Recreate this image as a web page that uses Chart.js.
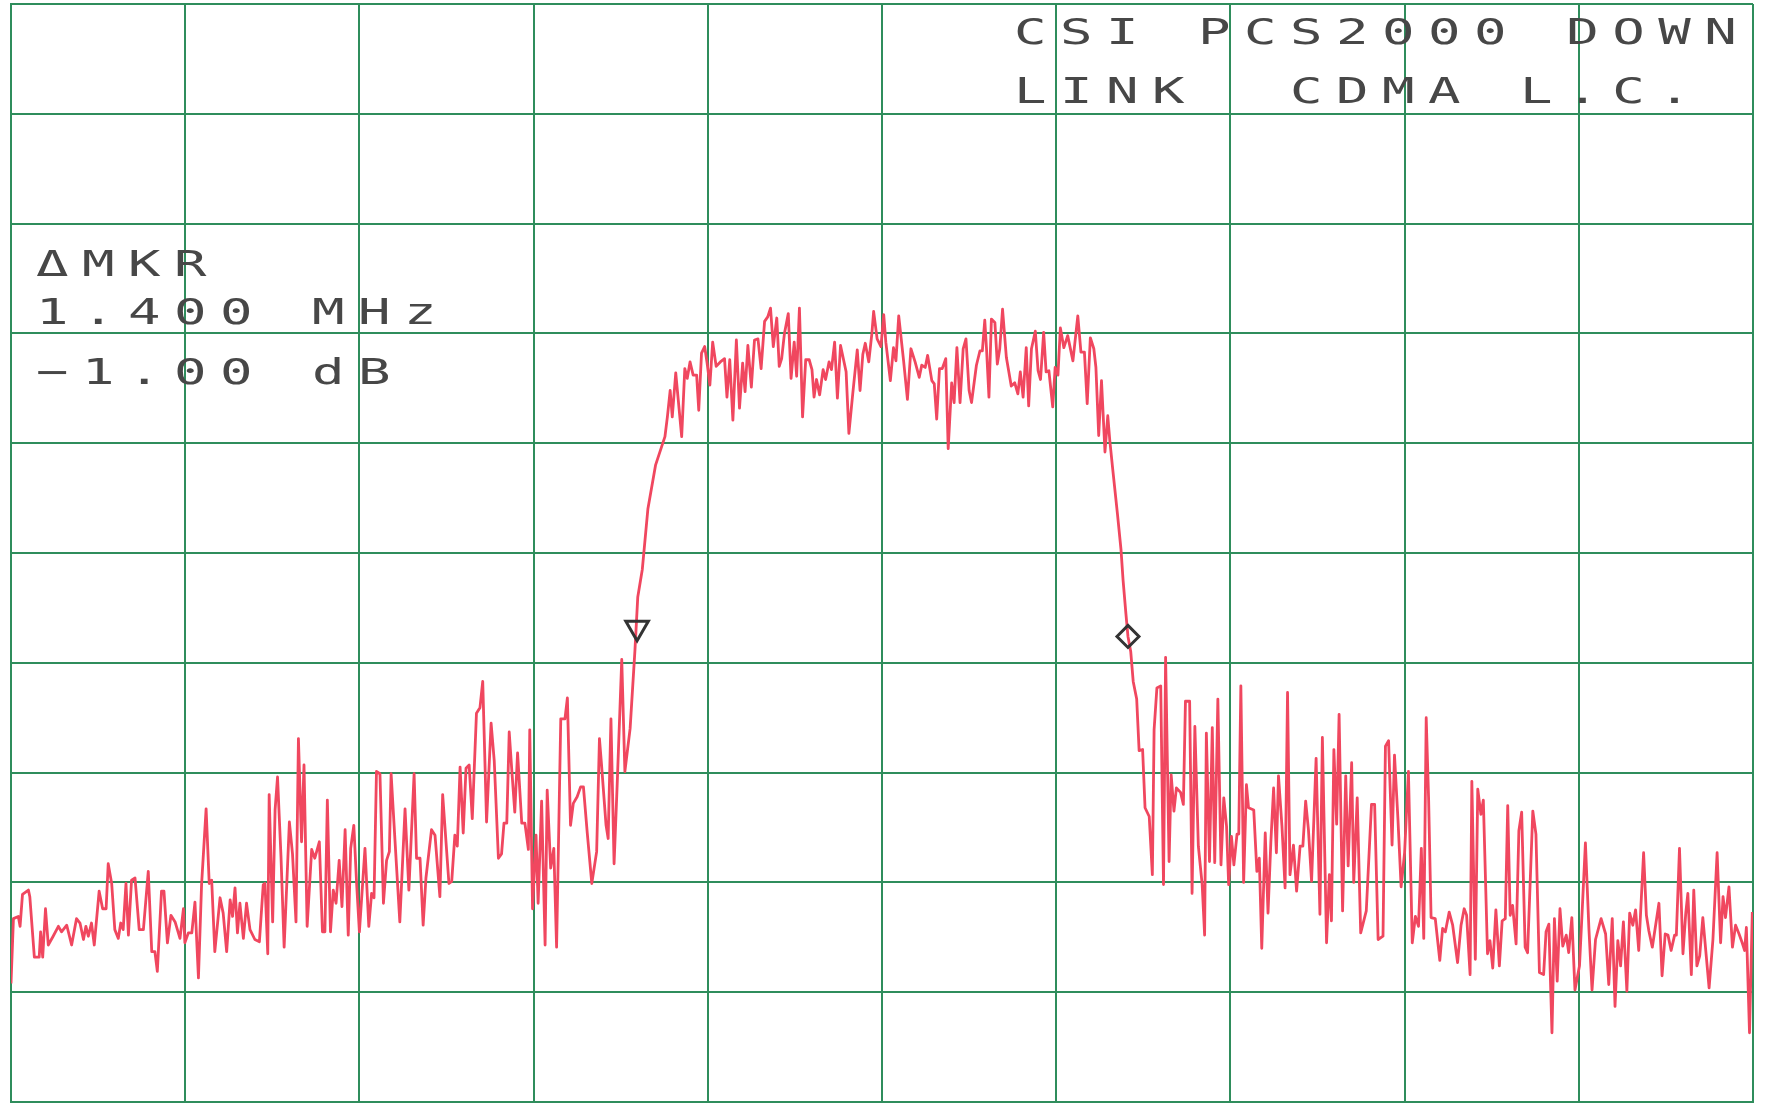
<!DOCTYPE html>
<html>
<head>
<meta charset="utf-8">
<title>CSI PCS2000 DOWN LINK CDMA L.C.</title>
<script src="https://cdn.jsdelivr.net/npm/chart.js@4/dist/chart.umd.min.js"></script>
<style>
  html, body { margin: 0; padding: 0; background: #ffffff; }
  #wrap { position: relative; width: 1765px; height: 1103px; overflow: hidden; }
  canvas { position: absolute; left: 0; top: 0; }
  .lbl {
    position: absolute;
    font-family: "DejaVu Sans Mono", monospace;
    font-size: 36px;
    line-height: 36px;
    letter-spacing: 9px;
    color: #474747;
    white-space: pre;
    transform: scaleX(1.5);
    transform-origin: 0 0;
  }
</style>
</head>
<body>
<div id="wrap">
  <canvas id="spectrum" width="1765" height="1103"></canvas>
  <div class="lbl" style="left:1014px; top:14px;">CSI PCS2000 DOWN</div>
  <div class="lbl" style="left:1014px; top:73px;">LINK  CDMA L.C.</div>
  <div class="lbl" style="left:36px; top:246px;">ΔMKR</div>
  <div class="lbl" style="left:36px; top:294px;">1.400 MHz</div>
  <div class="lbl" style="left:36px; top:354px;">−1.00 dB</div>
</div>
<script>
// span 5 MHz (0.5 MHz/div), 10 dB/div, frequency as offset from centre in kHz
const freqTicks = [-2500, -2000, -1500, -1000, -500, 0, 500, 1000, 1500, 2000, 2500];
const levelTicks = [-100, -90, -80, -70, -60, -50, -40, -30, -20, -10, 0];

// trace (kHz offset / dB)
const traceKHz = [
  // lower noise floor
  -2500,-2493,-2479,-2474,-2467,-2450,-2446,-2433,-2419,-2415,
  -2409,-2401,-2393,-2379,-2364,-2355,-2340,-2326,-2312,-2302,
  -2292,-2285,-2278,-2269,-2261,-2247,-2237,-2227,-2221,-2211,
  -2202,-2192,-2185,-2178,-2170,-2163,-2154,-2144,-2132,-2120,
  -2106,-2096,-2087,-2080,-2068,-2061,-2051,-2041,-2029,-2015,
  -2005,-2001,-1991,-1981,-1972,-1962,-1953,-1940,-1931,-1924,
  -1915,-1900,-1891,-1881,-1871,-1864,-1857,-1850,-1843,-1833,
  -1824,-1814,-1800,-1787,-1776,-1771,-1763,-1759,-1749,-1742,
  -1735,-1725,-1716,-1701,-1692,-1682,-1675,-1666,-1659,-1650,
  -1637,-1628,-1615,
  -1606,-1599,-1592,-1583,-1575,-1567,-1558,-1550,-1541,-1532,
  -1525,-1516,-1508,-1500,-1484,-1473,-1465,-1458,-1451,-1441,
  -1431,-1422,-1414,-1409,-1398,-1384,-1369,-1358,-1343,-1336,
  -1326,-1317,-1309,-1293,-1283,-1269,-1261,-1243,-1235,-1226,
  -1219,-1211,-1202,-1194,-1185,-1176,-1164,-1154,-1146,-1135,
  -1122,-1113,-1101,-1092,-1085,-1077,-1070,-1063,-1054,-1046,
  -1034,-1025,-1015,-1011,-1003,-993,-987,-977,-967,-961,
  -951,-942,-934,-922,-910,-903,-894,-886,-875,-865,
  -857,-846,-833,-819,-811,-805,-792,-786,-778,-769,
  -760,-747,-738,-723,-709,
  // rising edge
  -701,-688,-672,-650,
  // channel
  -623,-616,-608,-602,-592,-575,-566,-559,-551,-542,
  -532,-526,-518,-509,-502,-494,-486,-476,-464,-452,
  -445,-437,-428,-418,-409,-400,-393,-385,-375,-366,
  -356,-347,-337,-328,-320,-312,-302,-295,-288,-280,
  -269,-261,-252,-245,-237,-228,-219,-209,-201,-195,
  -188,-179,-169,-162,-152,-145,-136,-128,-119,-103,
  -95,-84,-71,-63,-55,-48,-38,-29,-24,-14,
  -3,5,
  11,24,33,40,48,62,73,83,95,107,
  114,124,131,143,150,157,165,173,183,190,
  200,207,215,224,233,241,250,257,271,281,
  288,295,300,307,314,324,331,338,346,357,
  371,381,390,397,405,414,421,429,440,448,
  455,464,471,479,490,497,505,512,522,533,
  548,562,571,581,589,598,608,614,622,630,
  640,648,654,662,
  // falling edge
  676,686,692,700,706,714,
  // upper noise floor
  721,731,738,748,755,767,776,781,789,800,
  808,814,824,830,838,845,857,865,871,883,
  890,898,908,919,926,931,940,948,955,964,
  973,981,989,995,1003,1010,1019,1024,1030,1038,
  1046,1052,1067,1076,1083,1090,1100,1108,1116,1124,
  1132,1138,1148,1157,1164,1171,1181,1190,1200,1208,
  1216,1224,1233,1246,1257,1264,1276,1284,1290,1297,
  1305,1312,1322,1331,1338,1348,1354,1364,1374,1390,
  1405,1414,1424,1438,1445,1454,1464,1471,1481,1490,
  1500,1511,1522,1531,1540,1548,1555,1562,1569,
  1576,1588,1601,1609,1617,1628,1638,1652,1662,1671,
  1678,1688,1693,1703,1710,1719,1726,1738,1745,1753,
  1762,1772,1780,1789,1796,1803,1810,1820,1828,1836,
  1846,1853,1868,1877,1887,1899,1906,1914,1923,1930,
  1938,1946,1954,1964,1971,1980,1989,2002,2010,2019,
  2029,2038,2048,2064,2077,2086,2096,2104,2112,2120,
  2128,2138,2146,2155,2163,2172,2186,2194,2201,2211,
  2230,2239,2248,2256,2265,2275,2280,2289,2299,2307,
  2313,2323,2330,2339,2347,2356,2374,2385,2397,2407,
  2414,2421,2431,2441,2450,2460,2469,2476,2481,2490,
  2498
];

const traceDb = [
  -89.2,-83.3,-83.1,-84.0,-81.1,-80.7,-81.3,-86.8,-86.8,-84.5,
  -86.8,-82.4,-85.7,-84.9,-84.0,-84.5,-83.9,-85.7,-83.3,-83.7,
  -85.2,-84.0,-84.9,-83.7,-85.7,-80.8,-82.4,-82.4,-78.3,-80.1,
  -84.3,-85.1,-83.7,-84.3,-80.1,-84.8,-79.8,-79.6,-84.3,-84.3,
  -79.0,-86.3,-86.3,-88.1,-80.8,-80.8,-85.5,-83.0,-83.6,-85.1,
  -82.4,-85.5,-84.6,-84.6,-81.8,-88.7,-80.2,-73.3,-80.1,-79.8,
  -86.3,-81.4,-82.8,-86.3,-81.6,-83.1,-80.5,-84.6,-81.9,-85.1,
  -81.9,-84.3,-85.2,-85.4,-80.2,-80.1,-86.5,-72.0,-83.6,-73.4,
  -70.4,-77.7,-85.9,-74.5,-77.4,-83.6,-66.9,-76.3,-69.3,-84.0,
  -77.0,-77.8,-76.3,
  -84.5,-84.5,-72.5,-84.5,-80.7,-81.9,-78.0,-82.2,-75.2,-84.8,
  -76.9,-74.8,-80.1,-84.5,-76.9,-84.0,-81.0,-81.4,-69.9,-70.1,
  -81.9,-78.0,-77.2,-70.1,-76.1,-83.6,-73.3,-80.7,-70.1,-77.8,
  -77.8,-83.9,-79.6,-75.2,-75.7,-81.3,-72.0,-80.1,-79.9,-75.7,
  -76.7,-69.5,-75.5,-69.6,-69.3,-74.2,-64.6,-64.1,-61.7,-74.5,
  -65.5,-68.9,-77.8,-77.4,-74.6,-74.6,-66.3,-69.6,-73.6,-68.2,
  -74.6,-74.6,-77.0,-66.1,-82.4,-75.7,-81.9,-72.6,-85.7,-71.6,
  -78.7,-76.9,-85.9,-65.1,-65.1,-63.2,-74.8,-72.8,-72.2,-71.3,
  -71.3,-75.5,-80.1,-77.2,-66.9,-69.3,-74.8,-76.0,-65.1,-78.3,
  -71.0,-59.7,-69.9,-66.0,-58.8,
  -54.0,-51.5,-46.0,-42.0,
  -39.4,-37.6,-35.2,-37.6,-33.6,-39.4,-33.2,-34.1,-32.6,-33.8,
  -33.8,-37.0,-31.8,-31.2,-32.7,-34.7,-30.8,-33.0,-32.6,-32.3,
  -35.8,-32.4,-37.9,-30.6,-36.8,-32.7,-35.3,-31.1,-34.9,-30.6,
  -30.5,-33.2,-28.9,-28.5,-27.7,-31.2,-28.6,-33.0,-32.3,-30.0,
  -28.2,-34.1,-30.8,-33.9,-27.7,-37.6,-32.4,-32.4,-33.3,-35.8,
  -34.2,-35.6,-33.3,-34.2,-32.6,-33.3,-30.8,-35.9,-31.1,-33.5,
  -39.1,-35.5,-31.5,-35.2,-31.9,-30.9,-32.6,-30.0,-28.0,-30.5,
  -31.2,-28.3,
  -30.8,-34.3,-31.3,-32.5,-28.4,-32.5,-36.0,-31.4,-32.6,-34.0,
  -32.9,-33.1,-32.0,-34.3,-34.6,-37.8,-33.2,-33.2,-32.3,-40.5,
  -34.5,-36.3,-31.3,-36.3,-31.4,-30.5,-35.2,-36.3,-32.9,-31.6,
  -31.6,-28.8,-31.4,-35.8,-28.7,-29.0,-32.8,-31.4,-27.8,-32.2,
  -34.8,-34.5,-35.5,-33.5,-35.8,-31.3,-36.6,-31.4,-29.8,-33.4,
  -34.2,-29.9,-33.5,-33.4,-36.7,-33.1,-33.8,-29.5,-31.3,-30.2,
  -32.5,-28.4,-31.7,-31.7,-36.4,-30.4,-31.4,-33.1,-39.3,-34.3,
  -40.8,-37.5,-39.8,-42.3,
  -46.5,-49.7,-52.5,-55.5,-57.6,-59.0,
  -61.7,-63.3,-68.0,-67.9,-73.2,-74.0,-79.3,-66.1,-62.3,-62.1,
  -80.2,-59.5,-78.1,-70.2,-73.5,-71.4,-71.8,-72.9,-63.5,-63.5,
  -81.0,-65.8,-76.7,-80.2,-84.8,-66.4,-78.1,-65.9,-78.2,-63.3,
  -78.4,-72.3,-74.9,-80.2,-75.8,-78.4,-75.6,-75.6,-62.1,-80.0,
  -71.1,-73.2,-73.4,-79.0,-77.8,-86.0,-75.5,-82.8,-76.4,-71.4,
  -77.3,-70.3,-74.9,-80.5,-62.7,-79.3,-76.6,-80.8,-76.7,-76.7,
  -72.6,-75.2,-79.9,-68.7,-82.9,-66.8,-85.5,-79.3,-83.5,-67.9,
  -74.7,-64.7,-82.6,-70.3,-78.5,-69.1,-80.0,-72.3,-84.6,-82.6,
  -72.9,-72.9,-85.2,-84.9,-67.6,-67.1,-76.6,-68.4,-74.3,-80.4,
  -77.3,-69.9,-85.5,-83.1,-84.0,-76.9,-85.1,-65.0,-72.5,
  -83.2,-83.3,-87.1,-84.2,-84.5,-82.7,-83.9,-87.3,-83.9,-82.4,
  -83.0,-88.4,-70.8,-87.0,-71.5,-73.8,-72.5,-86.5,-85.3,-87.8,
  -82.5,-87.6,-83.5,-83.3,-73.0,-83.0,-82.1,-85.6,-75.3,-73.6,
  -85.9,-86.4,-73.5,-75.6,-88.2,-88.4,-84.5,-83.8,-93.7,-83.3,
  -89.0,-82.4,-85.8,-84.8,-86.4,-83.2,-89.8,-87.6,-82.4,-76.4,
  -84.2,-89.8,-85.2,-83.3,-84.7,-89.3,-83.3,-91.3,-85.3,-87.6,
  -83.6,-89.9,-82.8,-83.9,-82.5,-86.2,-77.3,-83.0,-84.4,-85.9,
  -81.9,-88.5,-84.7,-84.8,-86.2,-84.8,-84.8,-76.9,-86.5,-82.8,
  -81.0,-88.4,-80.7,-87.6,-86.7,-83.2,-89.6,-85.2,-77.3,-85.5,
  -81.3,-83.2,-80.4,-85.9,-83.9,-84.7,-85.5,-86.2,-84.1,-93.7,
  -82.7
];

// delta marker pair: reference (triangle) and active (diamond)
const markerKHz = [-703, 706];
const markerDb = [-56.8, -57.6];
const markerStyle = ['triangle', 'rectRot'];

const gridGreen = '#2f8d5c';
const traceRed = '#f0475f';

const tracePoints = traceKHz.map((f, i) => ({ x: f, y: traceDb[i] }));
const markerPoints = markerKHz.map((f, i) => ({ x: f, y: markerDb[i] }));

const ctx = document.getElementById('spectrum');

new Chart(ctx, {
  type: 'line',
  data: {
    datasets: [
      {
        // markers first so they sit on top of the trace
        label: 'markers',
        data: markerPoints,
        showLine: false,
        pointStyle: markerStyle,
        pointRotation: [180, 0],
        pointRadius: [13, 11],
        pointBorderColor: '#333333',
        pointBackgroundColor: 'rgba(0,0,0,0)',
        pointBorderWidth: 3
      },
      {
        label: 'trace',
        data: tracePoints,
        borderColor: traceRed,
        borderWidth: 2.8,
        borderJoinStyle: 'round',
        pointRadius: 0,
        tension: 0,
        fill: false
      }
    ]
  },
  options: {
    responsive: false,
    animation: false,
    devicePixelRatio: 1,
    layout: { autoPadding: false, padding: { left: 11, right: 12, top: 4, bottom: 1 } },
    plugins: {
      legend: { display: false },
      tooltip: { enabled: false }
    },
    scales: {
      x: {
        type: 'linear',
        min: freqTicks[0],
        max: freqTicks[freqTicks.length - 1],
        afterBuildTicks: axis => { axis.ticks = freqTicks.map(v => ({ value: v })); },
        ticks: { display: false },
        grid: { color: gridGreen, lineWidth: 2, drawTicks: false },
        border: { display: true, color: gridGreen, width: 2 }
      },
      y: {
        type: 'linear',
        min: levelTicks[0],
        max: levelTicks[levelTicks.length - 1],
        afterBuildTicks: axis => { axis.ticks = levelTicks.map(v => ({ value: v })); },
        ticks: { display: false },
        grid: { color: gridGreen, lineWidth: 2, drawTicks: false },
        border: { display: true, color: gridGreen, width: 2 }
      }
    }
  }
});
</script>
</body>
</html>
